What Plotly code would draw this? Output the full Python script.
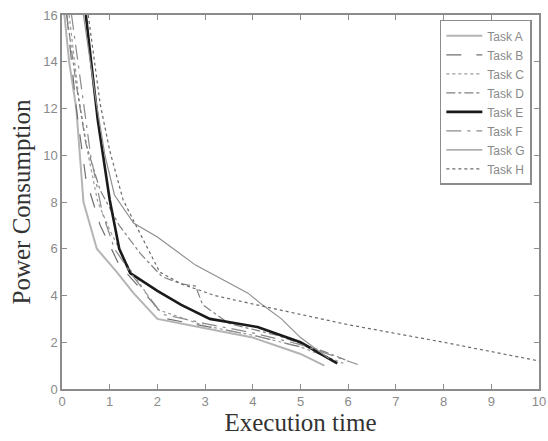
import plotly.graph_objects as go

names = ["Task A", "Task B", "Task C", "Task D", "Task E", "Task F", "Task G", "Task H"]

xa = [0.05, 0.15, 0.3, 0.38, 0.45, 0.73, 1.15, 1.5, 2.0, 3.0, 4.0, 5.0, 5.5]
ya = [16, 14, 12, 10, 8, 6.0, 5.0, 4.1, 3.0, 2.6, 2.2, 1.5, 1.0]

xb = [0.1, 0.3, 0.5, 0.8, 1.2, 1.6, 2.2, 3.0, 4.0, 5.0, 5.8]
yb = [16, 12, 9, 7, 5.3, 4.4, 3.0, 2.7, 2.3, 1.8, 1.2]

xc = [0.15, 0.35, 0.55, 0.75, 1.0, 1.4, 2.0, 3.0, 4.0, 5.0, 5.9]
yc = [16, 12.5, 10, 8, 6.8, 5.2, 3.4, 2.7, 2.3, 1.8, 1.1]

xd = [0.1, 0.3, 0.5, 0.8, 1.2, 1.64, 2.1, 2.5, 2.8, 2.95, 3.5, 4.5, 5.5, 6.0]
yd = [16, 13, 10.5, 8.5, 7.0, 5.8, 4.8, 4.5, 4.4, 3.6, 2.8, 2.3, 1.6, 1.2]

xe = [0.5, 0.75, 1.0, 1.2, 1.43, 2.0, 2.5, 3.1, 4.1, 5.0, 5.77]
ye = [16, 11.5, 8.1, 6.0, 4.96, 4.2, 3.6, 3.0, 2.65, 2.0, 1.1]

xf = [0.2, 0.4, 0.6, 0.85, 1.1, 1.5, 2.1, 3.0, 4.0, 5.0, 6.2]
yf = [16, 13, 10, 7.5, 6.0, 4.8, 3.2, 2.8, 2.4, 1.9, 1.05]

xg = [0.45, 0.7, 0.9, 1.1, 1.5, 2.0, 2.8, 3.25, 3.9, 4.2, 4.6, 5.0, 5.6]
yg = [16, 12.5, 10, 8.3, 7.1, 6.5, 5.3, 4.8, 4.1, 3.6, 3.0, 2.2, 1.3]

xh = [0.55, 0.8, 1.0, 1.28, 1.5, 2.05, 2.5, 3.2, 4.3, 6.0, 8.0, 10.0]
yh = [16, 12.2, 10.2, 8.1, 7.2, 5.0, 4.5, 4.0, 3.5, 2.75, 2.0, 1.2]

xs = [xa, xb, xc, xd, xe, xf, xg, xh]
ys = [ya, yb, yc, yd, ye, yf, yg, yh]

styles = [
    dict(color="#b4b4b4", width=2, dash="solid"),
    dict(color="#707070", width=1.2, dash="longdash"),
    dict(color="#9a9a9a", width=1.2, dash="dot"),
    dict(color="#808080", width=1.2, dash="dashdot"),
    dict(color="#1a1a1a", width=2.6, dash="solid"),
    dict(color="#8a8a8a", width=1.2, dash="longdashdot"),
    dict(color="#909090", width=1.2, dash="solid"),
    dict(color="#6a6a6a", width=1.2, dash="3px,3px"),
]

fig = go.Figure()
for n, x, y, s in zip(names, xs, ys, styles):
    fig.add_trace(go.Scatter(x=x, y=y, mode="lines", name=n, line=s))

axis_common = dict(
    showgrid=False, zeroline=False, showline=True, linecolor="#8c8c8c", linewidth=1.5,
    mirror="ticks", ticks="inside", ticklen=5, tickcolor="#8c8c8c", tickwidth=1,
    tickfont=dict(family="Arial", size=13, color="#8a8a8a"), automargin=False,
    ticklabeloverflow="allow",
)

fig.update_layout(
    width=548, height=441,
    margin=dict(l=62, r=9, t=15, b=52),
    paper_bgcolor="white", plot_bgcolor="white",
    xaxis=dict(range=[0, 10], dtick=1, **axis_common,
               title=dict(text="Execution time", font=dict(family="Liberation Serif", size=25, color="#333"), standoff=0)),
    yaxis=dict(range=[0, 16], dtick=2, **axis_common,
               title=dict(text="Power Consumption", font=dict(family="Liberation Serif", size=25, color="#333"), standoff=5)),
    legend=dict(x=0.985, y=0.987, xanchor="right", yanchor="top",
                bgcolor="white", bordercolor="#8c8c8c", borderwidth=1.5,
                font=dict(family="Arial", size=12, color="#8a8a8a"),
                tracegroupgap=0, itemwidth=36),
    showlegend=True,
)

fig.write_html("out.html", post_script="document.body.style.margin='0';",
               config={"displayModeBar": False})
